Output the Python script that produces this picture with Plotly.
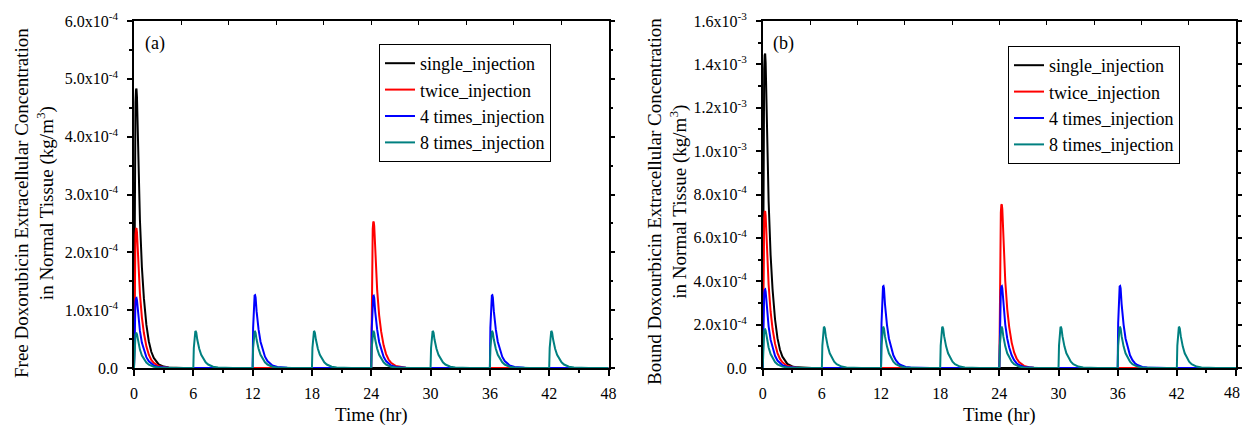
import plotly.graph_objects as go

# ---------------- data ----------------
# normalised single-dose peak shape: hours after injection -> fraction of peak
PROFILE_DT = [0.0, 0.05, 0.1, 0.15, 0.2, 0.25, 0.3, 0.4, 0.5, 0.6, 0.8, 1.0,
              1.25, 1.5, 1.75, 2.0, 2.5, 3.0, 3.5, 4.0, 5.0]
PROFILE_REL = [0.0, 0.55, 0.82, 0.95, 0.995, 1.0, 0.97, 0.78, 0.64, 0.53, 0.36, 0.25,
               0.155, 0.095, 0.058, 0.036, 0.013, 0.005, 0.002, 0.0007, 0.0]

SERIES_NAMES = ["single_injection", "twice_injection", "4 times_injection", "8 times_injection"]
SERIES_COLORS = ["#000000", "#ff0000", "#0000ff", "#008080"]

INJ_SINGLE = [0]
INJ_TWICE = [0, 24]
INJ_4 = [0, 12, 24, 36]
INJ_8 = [0, 6, 12, 18, 24, 30, 36, 42]

# (a) free doxorubicin, peak heights (kg/m^3)
FREE_SINGLE = [4.83e-4]
FREE_TWICE = [2.42e-4, 2.53e-4]
FREE_4 = [1.21e-4, 1.26e-4, 1.25e-4, 1.26e-4]
FREE_8 = [0.60e-4, 0.63e-4, 0.63e-4, 0.63e-4, 0.63e-4, 0.63e-4, 0.63e-4, 0.63e-4]

# (b) bound doxorubicin, peak heights (kg/m^3)
BOUND_SINGLE = [1.45e-3]
BOUND_TWICE = [7.24e-4, 7.55e-4]
BOUND_4 = [3.63e-4, 3.78e-4, 3.78e-4, 3.78e-4]
BOUND_8 = [1.78e-4, 1.88e-4, 1.88e-4, 1.88e-4, 1.88e-4, 1.88e-4, 1.88e-4, 1.88e-4]

X_TICKS = [0, 6, 12, 18, 24, 30, 36, 42, 48]
X_TEXT = ["0", "6", "12", "18", "24", "30", "36", "42", "48"]
TOP_TICKS = [4.8, 9.6, 14.4, 19.2, 24.0, 28.8, 33.6, 38.4, 43.2]
YA_TICKS = [0, 1e-4, 2e-4, 3e-4, 4e-4, 5e-4, 6e-4]
YA_TEXT = ["0.0", "1.0x10<sup>-4</sup>", "2.0x10<sup>-4</sup>", "3.0x10<sup>-4</sup>",
           "4.0x10<sup>-4</sup>", "5.0x10<sup>-4</sup>", "6.0x10<sup>-4</sup>"]
YB_TICKS = [0, 2e-4, 4e-4, 6e-4, 8e-4, 1.0e-3, 1.2e-3, 1.4e-3, 1.6e-3]
YB_TEXT = ["0.0", "2.0x10<sup>-4</sup>", "4.0x10<sup>-4</sup>", "6.0x10<sup>-4</sup>",
           "8.0x10<sup>-4</sup>", "1.0x10<sup>-3</sup>", "1.2x10<sup>-3</sup>",
           "1.4x10<sup>-3</sup>", "1.6x10<sup>-3</sup>"]


def build(inj_times, heights):
    t, y = [], []
    for ti, h in zip(inj_times, heights):
        for dt, r in zip(PROFILE_DT, PROFILE_REL):
            t.append(ti + dt)
            y.append(h * r)
    t.append(48)
    y.append(0.0)
    return t, y


FONT = "Liberation Serif"
W, H = 1242, 425

fig = go.Figure()

panel_a = [(INJ_SINGLE, FREE_SINGLE), (INJ_TWICE, FREE_TWICE), (INJ_4, FREE_4), (INJ_8, FREE_8)]
panel_b = [(INJ_SINGLE, BOUND_SINGLE), (INJ_TWICE, BOUND_TWICE), (INJ_4, BOUND_4), (INJ_8, BOUND_8)]

for (inj, hts), name, col in zip(panel_a, SERIES_NAMES, SERIES_COLORS):
    t, y = build(inj, hts)
    fig.add_trace(go.Scatter(x=t, y=y, mode="lines", name=name,
                             line=dict(color=col, width=2), xaxis="x", yaxis="y",
                             legend="legend"))
for (inj, hts), name, col in zip(panel_b, SERIES_NAMES, SERIES_COLORS):
    t, y = build(inj, hts)
    fig.add_trace(go.Scatter(x=t, y=y, mode="lines", name=name,
                             line=dict(color=col, width=2), xaxis="x2", yaxis="y2",
                             legend="legend2"))

# empty traces to activate the top tick axes
fig.add_trace(go.Scatter(x=[], y=[], xaxis="x3", yaxis="y", showlegend=False, hoverinfo="skip"))
fig.add_trace(go.Scatter(x=[], y=[], xaxis="x4", yaxis="y2", showlegend=False, hoverinfo="skip"))

ydom = [1 - 368 / H, 1 - 21 / H]
xa_dom = [134 / W, 608.5 / W]
xb_dom = [762.7 / W, 1236 / W]

tickfont = dict(family=FONT, size=16, color="black")

common_x = dict(range=[0, 48], tickvals=X_TICKS, ticks="outside", ticklen=6, tickwidth=1.5,
                tickcolor="black", showline=True, linecolor="black", linewidth=1.5,
                showgrid=False, zeroline=False, tickfont=tickfont, ticklabelstandoff=4,
                automargin=False,
                minor=dict(dtick=3, tick0=0, ticks="outside", ticklen=3, tickwidth=1.5,
                           tickcolor="black", showgrid=False))
common_y = dict(ticks="outside", ticklen=5, tickwidth=1.5, tickcolor="black", showline=True,
                linecolor="black", linewidth=1.5, mirror="ticks", showgrid=False,
                zeroline=False, tickfont=tickfont, ticklabelstandoff=6, automargin=False)

top_x = dict(range=[0, 48], tickvals=TOP_TICKS, ticks="inside", ticklen=4, tickwidth=1.2,
             tickcolor="black", showticklabels=False, showline=True, linecolor="black",
             linewidth=1.5, showgrid=False, zeroline=False, side="top", automargin=False)

legend_common = dict(xanchor="left", yanchor="top", bordercolor="black", borderwidth=1,
                     bgcolor="white", font=dict(family=FONT, size=18, color="black"),
                     tracegroupgap=0, itemwidth=30)

fig.update_layout(
    width=W, height=H, autosize=False,
    margin=dict(l=0, r=0, t=0, b=0, pad=0, autoexpand=False),
    paper_bgcolor="white", plot_bgcolor="white",
    font=dict(family=FONT, color="black"),
    xaxis=dict(domain=xa_dom, anchor="y", ticktext=X_TEXT, **common_x),
    yaxis=dict(domain=ydom, anchor="x", range=[0, 6e-4], tickvals=YA_TICKS, ticktext=YA_TEXT,
               minor=dict(dtick=0.5e-4, tick0=0, ticks="outside", ticklen=3, tickwidth=1.5,
                          tickcolor="black", showgrid=False), **common_y),
    xaxis2=dict(domain=xb_dom, anchor="y2", ticktext=X_TEXT[:-1] + [""], **common_x),
    yaxis2=dict(domain=ydom, anchor="x2", range=[0, 1.6e-3], tickvals=YB_TICKS, ticktext=YB_TEXT,
                minor=dict(dtick=1e-4, tick0=0, ticks="outside", ticklen=3, tickwidth=1.5,
                           tickcolor="black", showgrid=False), **common_y),
    xaxis3=dict(overlaying="x", anchor="y", **top_x),
    xaxis4=dict(overlaying="x2", anchor="y2", **top_x),
    legend=dict(x=379 / W, y=1 - 44 / H, **legend_common),
    legend2=dict(x=1008 / W, y=1 - 46 / H, **legend_common),
    showlegend=True,
)

annots = [
    dict(text="Time (hr)", x=371 / W, y=1 - 415 / H, xref="paper", yref="paper",
         showarrow=False, font=dict(family=FONT, size=19), xanchor="center", yanchor="middle"),
    dict(text="Time (hr)", x=999 / W, y=1 - 415 / H, xref="paper", yref="paper",
         showarrow=False, font=dict(family=FONT, size=19), xanchor="center", yanchor="middle"),
    dict(text="Free Doxorubicin Extracellular Concentration<br>in Normal Tissue (kg/m<sup>3</sup>)",
         x=34 / W, y=1 - 203 / H, xref="paper", yref="paper", textangle=-90, showarrow=False,
         font=dict(family=FONT, size=19), xanchor="center", yanchor="middle"),
    dict(text="Bound Doxourbicin Extracellular Concentration<br>in Normal Tissue (kg/m<sup>3</sup>)",
         x=667 / W, y=1 - 202 / H, xref="paper", yref="paper", textangle=-90, showarrow=False,
         font=dict(family=FONT, size=19), xanchor="center", yanchor="middle"),
    dict(text="(a)", x=155 / W, y=1 - 43 / H, xref="paper", yref="paper", showarrow=False,
         font=dict(family=FONT, size=18), xanchor="center", yanchor="middle"),
    dict(text="(b)", x=783 / W, y=1 - 43 / H, xref="paper", yref="paper", showarrow=False,
         font=dict(family=FONT, size=18), xanchor="center", yanchor="middle"),
    # last tick label of panel (b), which sits on the page edge
    dict(text=X_TEXT[-1], x=1.0, xref="paper", y=1 - 392 / H, yref="paper", showarrow=False,
         font=tickfont, xanchor="right", yanchor="middle"),
]
fig.update_layout(annotations=annots)

fig.write_html("out.html", config={"responsive": False, "displayModeBar": False},
               post_script="document.body.style.margin='0';document.body.style.overflow='hidden';")
